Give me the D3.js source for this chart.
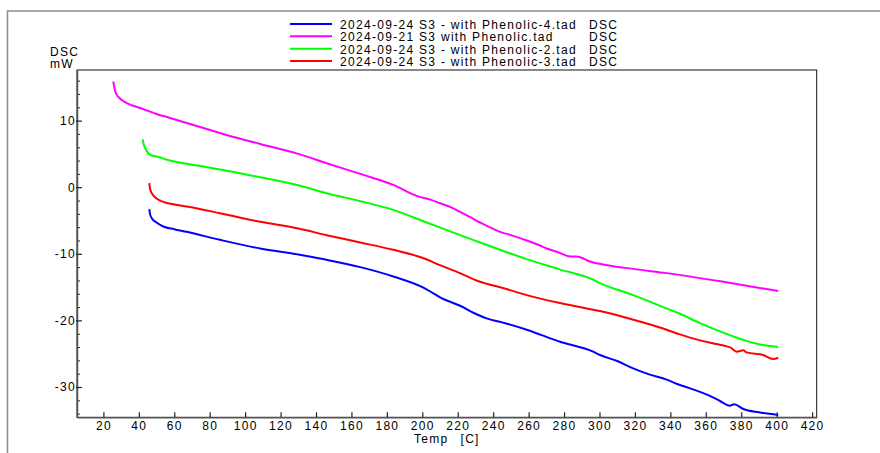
<!DOCTYPE html>
<html>
<head>
<meta charset="utf-8">
<script src="https://cdn.jsdelivr.net/npm/d3@7"></script>
<style>
    body { margin: 0; background: #fff; }
    svg text { font-family: "Liberation Sans", Arial, sans-serif; font-size: 12px; letter-spacing: 1.3px; fill: #000; }
</style>
</head>
<body>
<div id="chart"></div>
<script>
// legend entries (file names) in the order shown
const seriesNames = [
    "2024-09-24 S3 - with Phenolic-4.tad",
    "2024-09-21 S3 with Phenolic.tad",
    "2024-09-24 S3 - with Phenolic-2.tad",
    "2024-09-24 S3 - with Phenolic-3.tad"
];
const seriesSignal = ["DSC", "DSC", "DSC", "DSC"];
const seriesColors = ["#0000ff", "#ff00ff", "#00ff00", "#ff0000"];

// Phenolic-4 (blue)
const tempP4 = [45.9, 46.3, 47.3, 50, 53.8, 60, 67, 85.8, 108.5, 130, 146, 165, 183.6, 200, 212.8, 221.3, 230, 236.3, 245, 258.9, 277.7, 296.5, 300.3, 310, 319, 328, 337.9, 345.4, 350, 357.5, 362, 368, 373.6, 376, 381.2, 390, 400.9];
const dscP4 = [-3.3, -4.0, -4.65, -5.3, -5.9, -6.3, -6.7, -7.9, -9.2, -10.1, -10.9, -12.0, -13.4, -15.0, -16.9, -17.8, -19.0, -19.7, -20.3, -21.4, -23.2, -24.7, -25.2, -26.1, -27.2, -28.1, -28.9, -29.7, -30.1, -30.8, -31.3, -32.1, -32.8, -32.6, -33.3, -33.8, -34.2];

// Phenolic (magenta)
const tempP1 = [25.6, 26.0, 26.6, 27.5, 29, 32, 36, 40.7, 50, 57.6, 75, 90, 108.5, 130, 146, 165, 183.6, 196.8, 205, 210, 216, 221.3, 227, 232.6, 243.9, 250, 258.9, 265, 270.2, 277, 283.4, 287, 290.9, 293, 296.5, 302, 320, 337.9, 370, 400.9];
const dscP1 = [15.9, 15.2, 14.5, 13.9, 13.4, 12.8, 12.3, 11.9, 11.0, 10.4, 9.0, 7.8, 6.5, 5.0, 3.6, 2.0, 0.35, -1.3, -1.9, -2.4, -3.0, -3.7, -4.5, -5.3, -6.7, -7.2, -8.0, -8.6, -9.2, -9.8, -10.4, -10.4, -10.7, -11.0, -11.3, -11.6, -12.3, -12.9, -14.2, -15.6];

// Phenolic-2 (green)
const tempP2 = [42.2, 42.6, 43.5, 45, 47, 50.1, 57.6, 76.4, 95, 108.5, 130, 146, 165, 183.6, 202.5, 221.3, 232.6, 245, 258.9, 277, 296.5, 300.3, 319, 337.9, 345.4, 356.7, 375.5, 382, 388.7, 395, 400.9];
const dscP2 = [7.2, 6.6, 5.9, 5.2, 4.8, 4.6, 4.0, 3.1, 2.2, 1.5, 0.3, -0.9, -2.1, -3.4, -5.3, -7.2, -8.3, -9.5, -10.8, -12.3, -13.9, -14.4, -16.2, -18.2, -19.0, -20.4, -22.4, -23.0, -23.5, -23.8, -24.0];

// Phenolic-3 (red)
const tempP3 = [45.9, 46.3, 47.3, 50, 53.8, 60, 67, 85.8, 108.5, 130, 146, 165, 183.6, 200, 210, 221.3, 232.6, 236.3, 245, 258.9, 277.7, 296.5, 300.3, 319, 337.9, 345.4, 356.7, 365, 371.8, 374, 377.4, 381.2, 383, 392.4, 398, 400.9];
const dscP3 = [0.6, -0.2, -0.9, -1.7, -2.2, -2.6, -2.9, -3.9, -5.2, -6.2, -7.2, -8.3, -9.4, -10.6, -11.7, -12.9, -14.2, -14.5, -15.1, -16.2, -17.4, -18.4, -18.6, -19.9, -21.4, -22.1, -23.0, -23.5, -23.9, -24.1, -24.7, -24.5, -24.8, -25.2, -25.8, -25.6];

const xTicks = d3.range(20, 421, 20);
const yTicks = [-30, -20, -10, 0, 10];
const yMinorTicks = d3.range(-34, 17, 2).filter(v => v % 10 !== 0);

class DscChart {

    constructor(_config, _data) {
        this.config = {
            parentElement: _config.parentElement,
            containerWidth: _config.containerWidth || 880,
            containerHeight: _config.containerHeight || 453,
            margin: _config.margin || { top: 70, right: 63.3, bottom: 35.7, left: 77 }
        };
        this.data = _data;
        this.initVis();
    }

    initVis() {
        let vis = this;

        vis.width = vis.config.containerWidth - vis.config.margin.left - vis.config.margin.right;
        vis.height = vis.config.containerHeight - vis.config.margin.top - vis.config.margin.bottom;

        vis.svg = d3.select(vis.config.parentElement)
            .append('svg')
            .attr('width', vis.config.containerWidth)
            .attr('height', vis.config.containerHeight);

        // outer window frame (top + left only)
        vis.svg.append('path')
            .attr('d', `M7.5,${vis.config.containerHeight} V11 H${vis.config.containerWidth}`)
            .attr('fill', 'none')
            .attr('stroke', '#8c8c8c')
            .attr('stroke-width', 1.5);

        vis.chart = vis.svg.append('g')
            .attr('transform', `translate(${vis.config.margin.left},${vis.config.margin.top})`);

        vis.xScale = d3.scaleLinear().domain([5.1, 422.6]).range([0, vis.width]);
        vis.yScale = d3.scaleLinear().domain([-34.55, 17.6]).range([vis.height, 0]);

        vis.renderVis();
    }

    renderVis() {
        let vis = this;

        // plot frame
        vis.chart.append('rect')
            .attr('width', vis.width)
            .attr('height', vis.height)
            .attr('fill', 'none')
            .attr('stroke', '#111')
            .attr('stroke-width', 1);

        const line = d3.line()
            .curve(d3.curveMonotoneX)
            .x(d => vis.xScale(d.t))
            .y(d => vis.yScale(d.v));

        vis.data.forEach(s => {
            vis.chart.append('path')
                .datum(s.points)
                .attr('fill', 'none')
                .attr('stroke', s.color)
                .attr('stroke-width', 2)
                .attr('stroke-linejoin', 'round')
                .attr('d', line);
        });

        const xAxis = d3.axisBottom(vis.xScale)
            .tickValues(xTicks)
            .tickSizeInner(-5)
            .tickSizeOuter(0)
            .tickPadding(4)
            .tickFormat(d => String(d));

        const yAxis = d3.axisLeft(vis.yScale)
            .tickValues(yTicks)
            .tickSizeInner(-5)
            .tickSizeOuter(0)
            .tickPadding(1)
            .tickFormat(d => String(d));

        const yMinor = d3.axisLeft(vis.yScale)
            .tickValues(yMinorTicks)
            .tickSizeInner(-3)
            .tickSizeOuter(0)
            .tickFormat('');

        const xg = vis.chart.append('g')
            .attr('transform', `translate(0,${vis.height})`)
            .call(xAxis);

        vis.chart.append('g').call(yMinor).select('.domain').remove();
        const yg = vis.chart.append('g').call(yAxis);

        [xg, yg].forEach(g => {
            g.select('.domain').attr('stroke', '#555').attr('stroke-width', 1.5);
            g.selectAll('.tick line').attr('stroke', '#222').attr('stroke-width', 1.2);
            g.selectAll('text').attr('fill', '#000')
                .style('font-family', '"Liberation Sans", Arial, sans-serif')
                .style('font-size', '12px');
        });
        yg.selectAll('.tick line').attr('x1', -1);
        vis.chart.selectAll('.tick line').attr('stroke', '#222');

        // axis titles
        vis.svg.append('text').attr('x', 50).attr('y', 55.7).text('DSC');
        vis.svg.append('text').attr('x', 50).attr('y', 68.3).text('mW');
        vis.svg.append('text').attr('x', 414).attr('y', 442.5).text('Temp');
        vis.svg.append('text').attr('x', 460.5).attr('y', 442.5).text('[C]');

        // legend
        const legend = vis.svg.append('g');
        const rowY = [24, 36.3, 48.7, 61];
        vis.data.forEach((s, i) => {
            legend.append('line')
                .attr('x1', 290).attr('x2', 332)
                .attr('y1', rowY[i]).attr('y2', rowY[i])
                .attr('stroke', s.color)
                .attr('stroke-width', 2);
            legend.append('text')
                .attr('x', 340).attr('y', rowY[i] + 5)
                .text(s.name);
            legend.append('text')
                .attr('x', 589).attr('y', rowY[i] + 5)
                .text(s.signal);
        });
    }
}

const toPoints = (ts, vs) => ts.map((t, i) => ({ t: t, v: vs[i] }));

const seriesData = [
    toPoints(tempP4, dscP4),
    toPoints(tempP1, dscP1),
    toPoints(tempP2, dscP2),
    toPoints(tempP3, dscP3)
].map((pts, i) => ({ name: seriesNames[i], signal: seriesSignal[i], color: seriesColors[i], points: pts }));

const chart = new DscChart({ parentElement: '#chart' }, seriesData);
</script>
</body>
</html>
